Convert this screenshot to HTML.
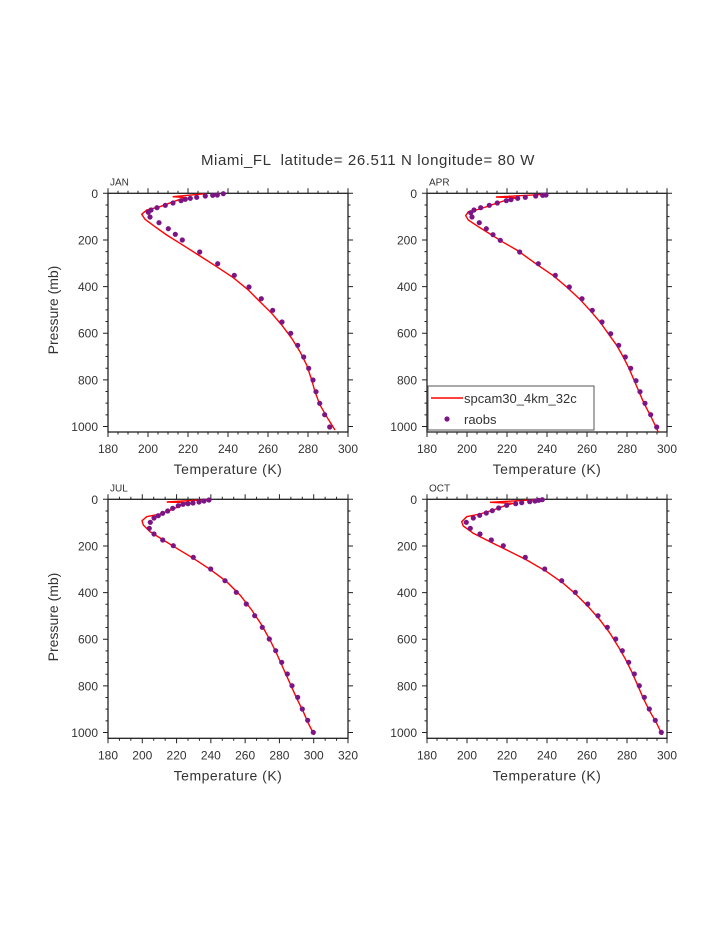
<!DOCTYPE html>
<html><head><meta charset="utf-8"><style>
html,body{margin:0;padding:0;background:#fff;}
svg{display:block;}
text{font-family:"Liberation Sans",sans-serif;fill:#333;}
</style></head><body>
<svg id="s" width="723" height="935" xmlns="http://www.w3.org/2000/svg">
<rect width="723" height="935" fill="#fff"/>
<text x="368" y="165" font-size="15" text-anchor="middle" xml:space="preserve" letter-spacing="0.6">Miami_FL  latitude= 26.511 N longitude= 80 W</text>
<text x="58" y="310" font-size="14" text-anchor="middle" transform="rotate(-90 58 310)">Pressure (mb)</text>
<text x="58" y="617" font-size="14" text-anchor="middle" transform="rotate(-90 58 617)">Pressure (mb)</text>
<g id="g"></g>
<rect x="428" y="386" width="166" height="44" fill="#fff" stroke="#555" stroke-width="1"/>
<line x1="431" y1="398" x2="463" y2="398" stroke="#f00" stroke-width="1.4"/>
<text x="464" y="403" font-size="13">spcam30_4km_32c</text>
<circle cx="447" cy="419" r="2.6" fill="#7b1585"/>
<text x="464" y="424" font-size="13">raobs</text>
</svg>
<script>
var NS="http://www.w3.org/2000/svg",g=document.getElementById("g");
function el(t,a,txt){var e=document.createElementNS(NS,t);for(var k in a)e.setAttribute(k,a[k]);if(txt!=null)e.textContent=txt;g.appendChild(e);return e;}
var P=[
{x0:108,x1:348,y0:193.3,y1:432,ox:100,oy:150,tmax:300,lab:"JAN",
dots:[[370,131],[352,135],[338,136],[316,138],[290,142],[271,145],[256,148],[243,152],[219,159],[196,166],[171,173],[153,180],[145,187],[150,201],[177,218],[205,236],[226,253],[247,270],[299,306],[353,341],[403,376],[447,411],[484,446],[518,481],[546,516],[572,550],[593,586],[611,621],[626,655],[639,690],[648,725],[659,760],[674,794],[689,831]],
line:[[317,131],[218,140],[262,143],[240,148],[215,157],[180,170],[140,180],[125,193],[135,208],[165,230],[200,255],[240,280],[300,318],[350,350],[400,383],[445,420],[480,455],[515,490],[545,525],[575,565],[600,605],[620,645],[635,690],[645,725],[660,765],[680,800],[705,840]]},
{x0:427,x1:667,y0:193.3,y1:432,ox:420,oy:185,tmax:300,lab:"APR",
dots:[[378,30],[368,31],[347,33],[316,37],[293,40],[273,44],[259,47],[232,54],[208,61],[182,68],[162,75],[152,83],[156,96],[178,113],[199,131],[219,149],[241,166],[299,201],[355,236],[406,271],[448,306],[486,341],[517,376],[546,411],[572,446],[596,481],[616,516],[632,550],[648,587],[660,620],[675,655],[692,689],[710,726]],
line:[[378,28],[228,36],[290,38],[260,45],[220,58],[180,72],[145,80],[137,92],[145,105],[175,125],[215,150],[250,172],[290,195],[350,238],[400,272],[440,306],[478,341],[510,376],[540,411],[565,446],[590,481],[610,516],[627,550],[643,587],[657,620],[672,655],[690,689],[708,726],[716,745]]},
{x0:108,x1:348,y0:499.3,y1:738.3,ox:100,oy:490,tmax:320,lab:"JUL",
dots:[[327,30],[312,33],[297,36],[279,39],[264,41],[249,43],[235,47],[218,55],[203,63],[188,70],[175,77],[162,84],[151,97],[148,115],[162,132],[188,150],[220,167],[280,202],[332,237],[375,272],[409,307],[439,342],[464,377],[487,412],[508,447],[527,482],[545,517],[562,552],[576,587],[593,622],[607,657],[623,691],[640,727]],
line:[[335,28],[200,36],[270,38],[245,45],[218,58],[180,72],[140,80],[126,92],[130,105],[150,125],[190,150],[230,175],[280,205],[330,238],[380,275],[420,315],[455,360],[485,405],[510,450],[532,495],[552,540],[570,580],[590,625],[610,665],[625,700],[643,735]]},
{x0:427,x1:667,y0:499.3,y1:738.3,ox:420,oy:490,tmax:300,lab:"OCT",
dots:[[367,29],[356,31],[345,33],[329,35],[305,38],[287,41],[260,46],[236,54],[217,62],[199,69],[179,76],[160,84],[139,97],[151,115],[180,132],[214,150],[250,167],[316,202],[374,237],[425,272],[466,307],[503,342],[534,377],[562,412],[587,447],[607,482],[626,517],[643,552],[658,587],[673,622],[688,657],[706,691],[724,727]],
line:[[370,28],[210,37],[280,40],[255,47],[220,60],[180,72],[140,80],[125,95],[130,108],[160,130],[210,155],[260,180],[320,210],[380,245],[430,280],[470,315],[505,350],[540,390],[570,430],[595,470],[615,505],[635,545],[655,590],[670,625],[690,665],[710,700],[727,735]]}
];
P.forEach(function(p,i){
  var W=p.x1-p.x0,H=p.y1-p.y0,sc=0.2332;
  var cp=el("clipPath",{id:"c"+i});
  var r=document.createElementNS(NS,"rect");r.setAttribute("x",p.x0);r.setAttribute("y",p.y0);r.setAttribute("width",W);r.setAttribute("height",H);cp.appendChild(r);
  var d="";
  var n=(p.tmax-180)/20, step=W/n, sub=(p.tmax==320)?3:4;
  for(var k=0;k<=n*sub;k++){var x=p.x0+k*step/sub,L=(k%sub==0)?5:2.5;
    d+="M"+x+" "+p.y0+"v"+(-L)+"M"+x+" "+p.y1+"v"+L;}
  for(var q=0;q<=1000;q+=50){var y=p.y0+q*sc,L=(q%200==0)?5:2.5;
    d+="M"+p.x0+" "+y+"h"+(-L)+"M"+p.x1+" "+y+"h"+L;}
  el("path",{d:d,stroke:"#222","stroke-width":1,fill:"none"});
  el("rect",{x:p.x0,y:p.y0,width:W,height:H,fill:"none",stroke:"#222","stroke-width":1.3});
  var pts=p.line.map(function(a){return (p.ox+a[0]/3).toFixed(1)+","+(p.oy+a[1]/3).toFixed(1)}).join(" ");
  el("polyline",{points:pts,fill:"none",stroke:"#f00","stroke-width":1.4,"clip-path":"url(#c"+i+")"});
  p.dots.forEach(function(a){el("circle",{cx:(p.ox+a[0]/3).toFixed(1),cy:(p.oy+a[1]/3).toFixed(1),r:2.6,fill:"#7b1585"});});
  for(var k=0;k<=n;k++){el("text",{x:p.x0+k*step,y:p.y1+21,"font-size":12,"text-anchor":"middle"},String(180+20*k));}
  for(var q=0;q<=1000;q+=200){el("text",{x:p.x0-10,y:p.y0+q*sc+4.5,"font-size":12,"text-anchor":"end"},String(q));}
  el("text",{x:(p.x0+p.x1)/2,y:p.y1+42,"font-size":14,"text-anchor":"middle","letter-spacing":"0.5"},"Temperature (K)");
  el("text",{x:p.x0+2,y:p.y0-8,"font-size":10},p.lab);
});
</script>
</body></html>
